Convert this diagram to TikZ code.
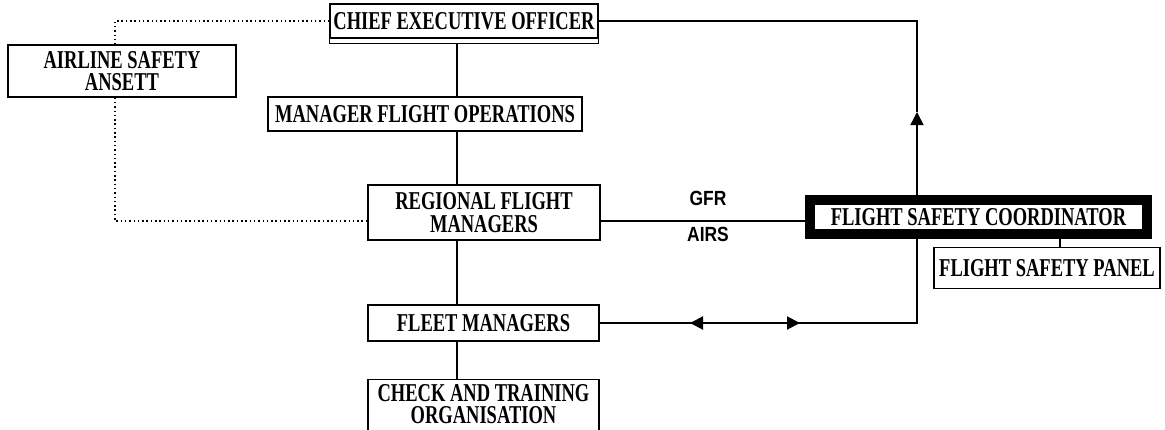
\documentclass[tikz,border=0pt]{standalone}
\usepackage{fontspec}
\setmainfont{Liberation Serif}[FakeStretch=0.76,BoldFeatures={FakeStretch=0.72}]
\newfontfamily\tagfont{Liberation Sans}[FakeStretch=0.85,BoldFeatures={FakeStretch=0.85}]
\usetikzlibrary{arrows.meta}

\begin{document}
\begin{tikzpicture}[x=1pt,y=-1pt,>={Triangle[length=13pt,width=13pt]},
  box/.style={draw,line width=1.3pt,inner sep=0pt,align=center,font=\fontsize{25.7}{22.5}\selectfont\bfseries},
  link/.style={line width=1.4pt},
  dotlink/.style={line width=1.5pt,dash pattern=on 1.5pt off 2.8pt},
  tag/.style={font=\tagfont\fontsize{20.5}{22}\selectfont\bfseries}]
  \useasboundingbox[fill=white] (0,0) rectangle (1165,429);

  \node[box,minimum width=268,minimum height=34] (ceo) at (464,21) {CHIEF EXECUTIVE OFFICER};
  \node[box,minimum width=228,minimum height=52] (airline) at (122,71) {AIRLINE SAFETY\\ANSETT};
  \node[box,minimum width=314,minimum height=34] (mfo) at (425,114) {MANAGER FLIGHT OPERATIONS};
  \node[box,minimum width=232,minimum height=55] (reg) at (484,212.5) {REGIONAL FLIGHT\\MANAGERS};
  \node[box,minimum width=231,minimum height=36] (fleet) at (483.5,323) {FLEET MANAGERS};
  \node[box,minimum width=231,anchor=north,inner ysep=4.5pt,text depth=45pt] (check) at (483.5,379) {CHECK AND TRAINING\\ORGANISATION};
  \node[box,line width=10pt,minimum width=337,minimum height=34] (fsc) at (978.5,217) {FLIGHT SAFETY COORDINATOR};
  \node[box,minimum width=226,minimum height=41] (fsp) at (1047,268) {FLIGHT SAFETY PANEL};
  \node[tag] (gfr) at (708,198) {GFR};
  \node[tag] (airs) at (708,234) {AIRS};

  \coordinate (spine) at (457,0);
  \coordinate (dotx) at (115,0);
  \coordinate (feed) at (0,221);
  \coordinate (riser) at (917,112);
  \coordinate (panelstub) at ([xshift=13pt]fsp.north);
  \coordinate (fl) at (690,323);
  \coordinate (fr) at (800,323);

  \draw[line width=1.3pt] (ceo.south west) -- ++(0,5) -| (ceo.south east);
  \draw[link] (ceo.south -| spine) ++(0,5) -- (mfo.north -| spine);
  \draw[link] (mfo.south -| spine) -- (reg.north -| spine);
  \draw[link] (reg.south -| spine) -- (fleet.north -| spine);
  \draw[link] (fleet.south -| spine) -- (check.north -| spine);
  \draw[dotlink] (ceo.west) -| (airline.north -| dotx);
  \draw[dotlink] (airline.south -| dotx) |- (reg.west |- feed);
  \draw[link] (reg.east |- feed) -- (fsc.west |- feed);
  \draw[link] (ceo.east) -| (riser);
  \draw[link,->] (fsc.north -| riser) -- (riser);
  \draw[link] (fsc.south -| riser) |- (fleet.east);
  \draw[line width=2pt,<->] (fl) -- (fr);
  \draw[link] (panelstub) -- (panelstub |- fsc.south);
\end{tikzpicture}
\end{document}
